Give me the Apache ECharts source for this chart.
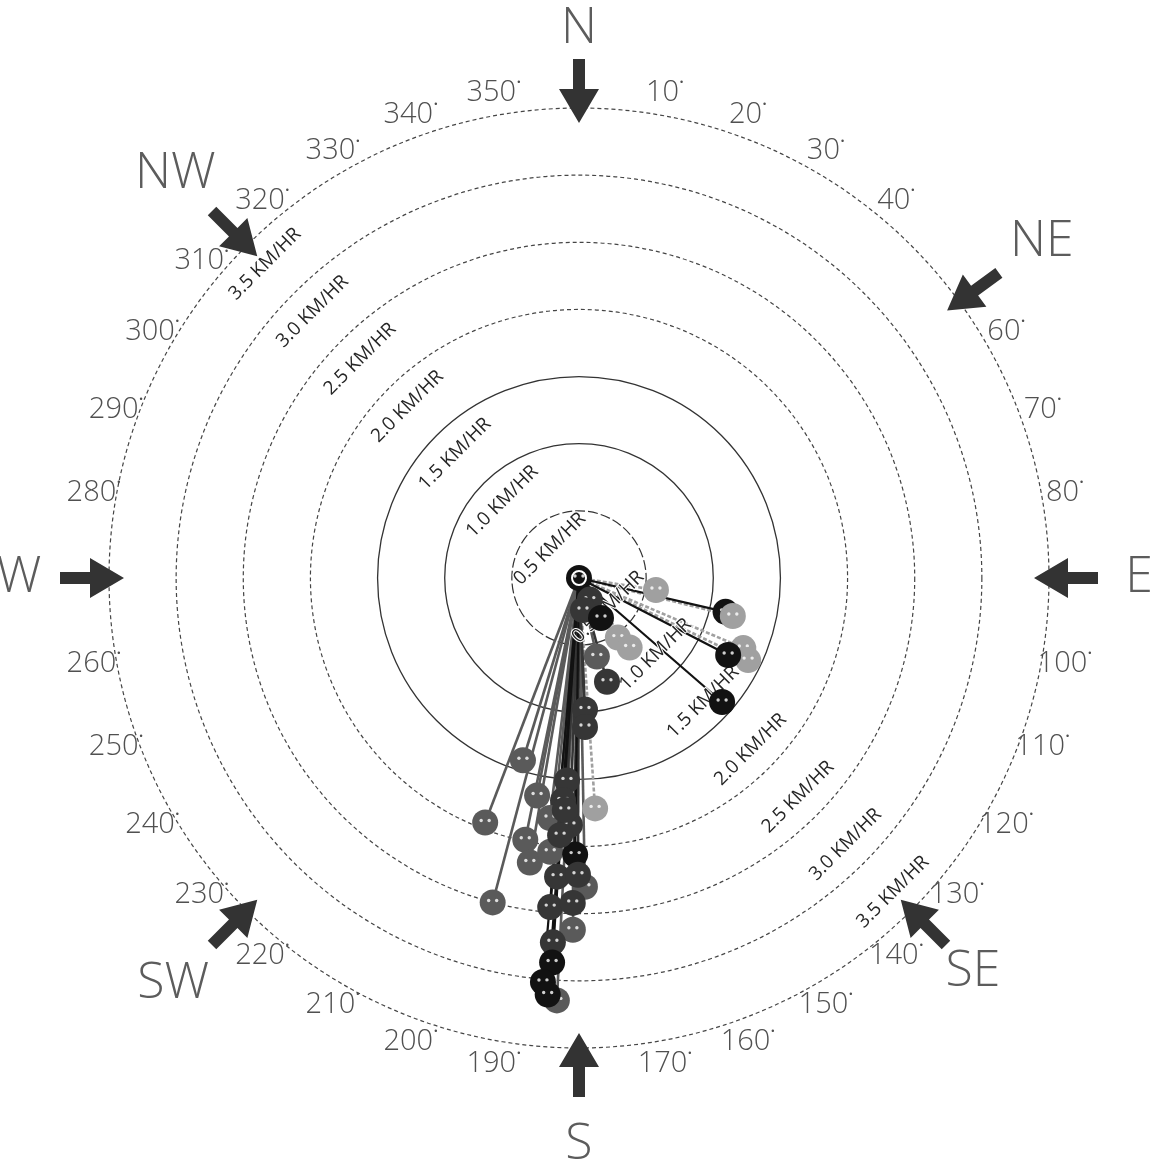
<!DOCTYPE html>
<html>
<head>
<meta charset="utf-8">
<script src="https://cdn.jsdelivr.net/npm/echarts@6/dist/echarts.min.js"></script>
<style>
  html, body { margin: 0; padding: 0; background: #fff; }
  #chart { width: 1159px; height: 1168px; }
</style>
</head>
<body>
<div id="chart"></div>
<script>
// ---- data -------------------------------------------------------------
// Speed rings (km/hr) and their captions
const ringSpeeds = [0.5, 1.0, 1.5, 2.0, 2.5, 3.0, 3.5];
const ringCaptions = ['0.5 KM/HR', '1.0 KM/HR', '1.5 KM/HR', '2.0 KM/HR', '2.5 KM/HR', '3.0 KM/HR', '3.5 KM/HR'];
// Bearings along which the ring captions are repeated
const captionBearings = [315, 135];

// Degree tick labels printed round the outer ring
const degreeTicks = [10, 20, 30, 40, 60, 70, 80, 100, 110, 120, 130, 140, 150, 160, 170,
  190, 200, 210, 220, 230, 240, 250, 260, 280, 290, 300, 310, 320, 330, 340, 350];

// Compass points and the bearing of each inward arrow
const compassNames = ['N', 'NE', 'E', 'SE', 'S', 'SW', 'W', 'NW'];
const compassBearings = [0, 54, 90, 135, 180, 225, 270, 315];

// Current vectors: speed (km/hr), bearing (deg, clockwise from N), shade class
// shade: 0 black, 1 dark grey, 2 mid grey, 3 light grey
const vecSpeed = [
  0.00, 0.18, 0.24,
  0.58, 1.12, 1.18, 1.33, 1.40, 1.25, 1.41, 0.34, 0.53, 0.64, 0.60, 0.80,
  0.98, 1.11, 1.42, 1.95, 2.50, 1.65, 1.51, 1.66, 1.72, 1.80, 1.84, 1.99,
  2.15, 2.05, 2.06, 2.23, 2.30, 2.46, 2.42, 2.62, 2.72, 2.87, 3.02, 3.15,
  1.92, 3.11, 1.73, 2.21
];
const vecBearing = [
  0.0, 153.4, 172.9,
  98.9, 103.0, 103.9, 113.1, 115.9, 117.3, 130.9, 151.2, 146.9, 143.9, 167.2, 164.9,
  177.4, 177.7, 197.1, 201.0, 194.9, 190.9, 183.4, 184.1, 176.0, 186.9, 182.1, 191.6,
  189.8, 186.0, 180.8, 184.2, 178.9, 185.0, 181.1, 181.0, 184.1, 184.0, 185.1, 183.0,
  184.2, 184.3, 183.5, 180.2
];
const vecShade = [
  0, 1, 1,
  3, 0, 3, 3, 3, 0, 0, 0, 3, 3, 2, 1,
  1, 1, 2, 2, 2, 2, 1, 1, 3, 2, 1, 2,
  2, 2, 0, 1, 2, 1, 1, 2, 1, 0, 0, 2,
  1, 0, 1, 1
];

// ---- styling ----------------------------------------------------------
const CX = 579, CY = 578, R = 470;
const SPEED_MAX = 3.5;
const shadeColors = ['#121212', '#363636', '#5a5a5a', '#a0a0a0'];
const FONT = '"Open Sans", "DejaVu Sans", sans-serif';
// distance of each compass name from the centre
const compassLabelRadius = [549, 572, 560, 557, 567, 574, 560, 571];

const vectorData = vecSpeed.map((s, i) => [s, vecBearing[i], vecShade[i]]);
const captionData = [];
captionBearings.forEach(b => ringSpeeds.forEach((s, i) => captionData.push([s, b, i])));
const degreeData = degreeTicks.map(d => [SPEED_MAX, d]);

// ring split-line colours: index 0 is the centre, then one per ring
const clear = 'rgba(0,0,0,0)';
const dashedRingColors = [clear, clear, clear, clear, '#454545', '#454545', '#454545', '#454545'];
const solidRingColors = [clear, clear, '#333333', '#333333'];
const innerRingColors = [clear, '#333333'];

function bearingPoint(b, r) {
  const a = b * Math.PI / 180;
  return [CX + r * Math.sin(a), CY - r * Math.cos(a)];
}

// compass arrows and names
const graphics = [];
compassBearings.forEach((b, i) => {
  const a = b * Math.PI / 180;
  const ux = -Math.sin(a), uy = Math.cos(a);   // inward unit vector
  const px = -uy, py = ux;                     // perpendicular
  const tail = bearingPoint(b, 519);
  const L = 64, hl = 34, hw = 20, sw = 6;
  const at = (d, w) => [tail[0] + ux * d + px * w, tail[1] + uy * d + py * w];
  graphics.push({
    type: 'polygon',
    shape: { points: [at(0, -sw), at(L - hl, -sw), at(L - hl, -hw), at(L, 0), at(L - hl, hw), at(L - hl, sw), at(0, sw)] },
    style: { fill: '#333333' },
    z: 5
  });
  const lp = bearingPoint(b, compassLabelRadius[i]);
  graphics.push({
    type: 'text',
    x: lp[0], y: lp[1],
    style: {
      text: compassNames[i], fill: '#5c5c5c',
      font: '200 50px ' + FONT,
      align: 'center', verticalAlign: 'middle'
    },
    z: 5
  });
});

// unit vector pointing away from the centre for a point given through the axes
function outward(api, s, b) {
  const c = api.coord([0, b]);
  const p = api.coord([s, b]);
  const dx = p[0] - c[0], dy = p[1] - c[1];
  const d = Math.sqrt(dx * dx + dy * dy) || 1;
  return { p, ux: dx / d, uy: dy / d };
}

const chart = echarts.init(document.getElementById('chart'), null, { renderer: 'canvas' });

const option = {
  backgroundColor: '#ffffff',
  animation: false,
  polar: [
    { center: [CX, CY], radius: R },
    { center: [CX, CY], radius: R * ringSpeeds[2] / SPEED_MAX },
    { center: [CX, CY], radius: R * ringSpeeds[0] / SPEED_MAX }
  ],
  angleAxis: [
    {
      polarIndex: 0, type: 'value', min: 0, max: 360, interval: 10,
      startAngle: 90, clockwise: true,
      axisLine: { show: false }, axisTick: { show: false }, splitLine: { show: false },
      axisLabel: { show: false }
    },
    { polarIndex: 1, type: 'value', min: 0, max: 360, startAngle: 90, show: false },
    { polarIndex: 2, type: 'value', min: 0, max: 360, startAngle: 90, show: false }
  ],
  radiusAxis: [
    {
      polarIndex: 0, type: 'value', min: 0, max: SPEED_MAX, interval: 0.5,
      axisLine: { show: false }, axisTick: { show: false }, axisLabel: { show: false },
      splitLine: { show: true, lineStyle: { color: dashedRingColors, width: 1.2, type: [4, 3] } }
    },
    {
      polarIndex: 1, type: 'value', min: 0, max: ringSpeeds[2], interval: 0.5,
      axisLine: { show: false }, axisTick: { show: false }, axisLabel: { show: false },
      splitLine: { show: true, lineStyle: { color: solidRingColors, width: 1.3, type: 'solid' } }
    },
    {
      polarIndex: 2, type: 'value', min: 0, max: ringSpeeds[0], interval: 0.5,
      axisLine: { show: false }, axisTick: { show: false }, axisLabel: { show: false },
      splitLine: { show: true, lineStyle: { color: innerRingColors, width: 1.2, type: [10, 3] } }
    }
  ],
  graphic: graphics,
  series: [
    {
      // degree labels round the outer ring
      type: 'custom', coordinateSystem: 'polar', polarIndex: 0, z: 3,
      data: degreeData,
      renderItem(params, api) {
        const o = outward(api, api.value(0), api.value(1));
        const off = 23;
        return {
          type: 'text',
          x: o.p[0] + o.ux * off, y: o.p[1] + o.uy * off,
          style: {
            text: '{n|' + api.value(1) + '}{d|•}',
            align: 'center', verticalAlign: 'middle',
            rich: {
              n: { fontSize: 29, fontFamily: FONT, fontWeight: 300, fill: '#505050' },
              d: { fontSize: 9, fill: '#505050', verticalAlign: 'top', padding: [0, 0, 0, 1] }
            }
          }
        };
      }
    },
    {
      // shafts from the origin to each vector tip
      type: 'custom', coordinateSystem: 'polar', polarIndex: 0, z: 2,
      data: vectorData,
      renderItem(params, api) {
        const s = api.value(0), b = api.value(1), k = api.value(2);
        const p0 = api.coord([0, b]);
        const p1 = api.coord([s, b]);
        return {
          type: 'line', z2: 10 - k,
          shape: { x1: p0[0], y1: p0[1], x2: p1[0], y2: p1[1] },
          style: { stroke: shadeColors[k], lineWidth: k === 0 ? 2.2 : 2.6, lineDash: k === 3 ? [4, 2] : null }
        };
      }
    },
    {
      // ring captions, tilted along the tangent
      type: 'custom', coordinateSystem: 'polar', polarIndex: 0, z: 3,
      data: captionData,
      renderItem(params, api) {
        const o = outward(api, api.value(0), api.value(1));
        const i = api.value(2);
        const off = 26;
        return {
          type: 'text',
          x: o.p[0] - o.ux * off, y: o.p[1] - o.uy * off,
          rotation: Math.PI / 4,
          style: {
            text: ringCaptions[i], fill: '#262626',
            font: '400 19px ' + FONT,
            align: 'center', verticalAlign: 'middle',
            stroke: '#ffffff', lineWidth: 2
          }
        };
      }
    },
    {
      // vector tips
      type: 'custom', coordinateSystem: 'polar', polarIndex: 0, z: 4,
      data: vectorData,
      renderItem(params, api) {
        const s = api.value(0), b = api.value(1), k = api.value(2);
        const p = api.coord([s, b]);
        const children = [
          { type: 'circle', shape: { cx: p[0], cy: p[1], r: 13 }, style: { fill: shadeColors[k] } },
          { type: 'circle', shape: { cx: p[0] - 4, cy: p[1] - 2, r: 1.7 }, style: { fill: 'rgba(255,255,255,0.8)' } },
          { type: 'circle', shape: { cx: p[0] + 4, cy: p[1] - 2, r: 1.7 }, style: { fill: 'rgba(255,255,255,0.8)' } }
        ];
        if (s === 0) {
          children.push({ type: 'circle', shape: { cx: p[0], cy: p[1], r: 7 }, style: { fill: 'none', stroke: '#fff', lineWidth: 2 } });
        }
        return { type: 'group', z2: 10 - k, children };
      }
    }
  ]
};

chart.setOption(option);
</script>
</body>
</html>
